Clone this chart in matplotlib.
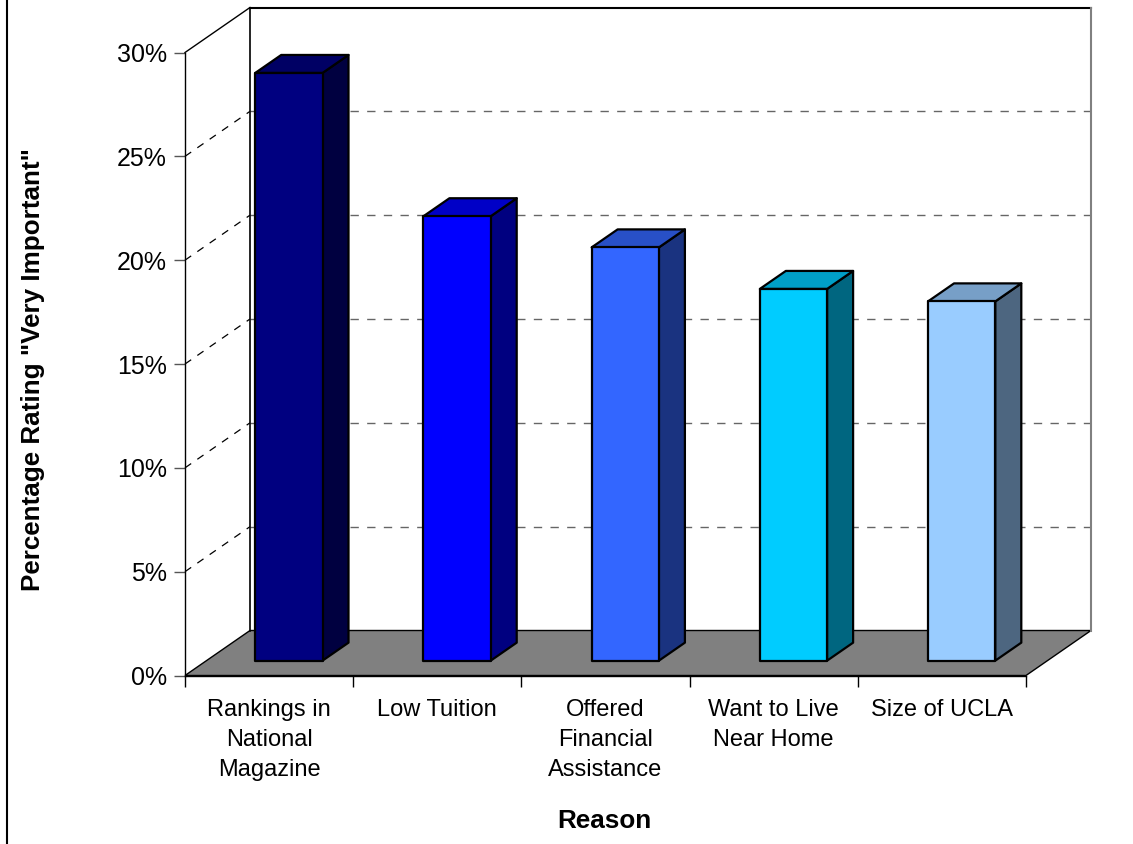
import matplotlib
matplotlib.use("Agg")
import matplotlib.pyplot as plt
from matplotlib.patches import Polygon
from matplotlib.lines import Line2D
from matplotlib.colors import to_rgb

plt.rcParams['font.family'] = ['Liberation Sans', 'DejaVu Sans']

categories = ["Rankings in\nNational\nMagazine", "Low Tuition",
              "Offered\nFinancial\nAssistance", "Want to Live\nNear Home",
              "Size of UCLA"]
values = [28.3, 21.4, 19.9, 17.9, 17.3]
colors = ["#000080", "#0000FF", "#3366FF", "#00CCFF", "#99CCFF"]
yticks = [0, 5, 10, 15, 20, 25, 30]
ytick_labels = ["0%", "5%", "10%", "15%", "20%", "25%", "30%"]
xlabel = "Reason"
ylabel = 'Percentage Rating "Very Important"'

W, H = 1133, 844
fig = plt.figure(figsize=(W / 100, H / 100), dpi=100)
# front plane of the 3D box (pixels)
x0p, x1p = 185, 1026
y0p, y1p = 675.5, 52.5
ax = fig.add_axes([x0p / W, (H - y0p) / H, (x1p - x0p) / W, (y0p - y1p) / H])
n = len(categories)
ymax = 30
ax.set_xlim(0, n)
ax.set_ylim(0, ymax)

# depth offset (full depth) in data units
DX = 65 / (x1p - x0p) * n
DY = 45 / (y0p - y1p) * ymax

for s in ["top", "right"]:
    ax.spines[s].set_visible(False)
ax.spines["left"].set_color("black")
ax.spines["bottom"].set_color("black")
ax.spines["left"].set_linewidth(1.0)
ax.spines["bottom"].set_linewidth(1.0)
ax.spines["left"].set_zorder(20)
ax.spines["bottom"].set_zorder(20)

ax.set_yticks(yticks)
ax.set_yticklabels(ytick_labels, fontsize=18)
ax.tick_params(axis="y", direction="out", length=8, width=1, color="#555555", pad=5)
ax.set_xticks(range(n + 1))
ax.set_xticklabels([""] * (n + 1))
ax.tick_params(axis="x", which="major", direction="out", length=8, width=1, color="black")
ax.set_xticks([i + 0.5 for i in range(n)], minor=True)
ax.set_xticklabels(categories, minor=True, fontsize=17, linespacing=1.47, va="top")
ax.tick_params(axis="x", which="minor", length=0, pad=17)

# floor
floor = Polygon([(0, 0), (n, 0), (n + DX, DY), (DX, DY)], closed=True,
                facecolor="#808080", edgecolor="black", lw=1.0, zorder=1, clip_on=False)
ax.add_patch(floor)

# back wall gridlines and left wall gridlines
for v in yticks[1:-1]:
    ax.add_line(Line2D([DX, n + DX], [v + DY, v + DY], color="#666666", lw=1.0,
                       linestyle=(0, (6, 6)), zorder=2, clip_on=False))
    ax.add_line(Line2D([0, DX], [v, v + DY], color="black", lw=0.9,
                       linestyle=(0, (6, 6)), zorder=2, clip_on=False))

# wall borders
ax.add_line(Line2D([DX, DX], [DY, ymax + DY], color="black", lw=1.2, zorder=3, clip_on=False))
ax.add_line(Line2D([DX, n + DX], [ymax + DY, ymax + DY], color="black", lw=1.5, zorder=3, clip_on=False))
ax.add_line(Line2D([n + DX, n + DX], [DY, ymax + DY], color="#808080", lw=1.5, zorder=3, clip_on=False))
ax.add_line(Line2D([0, DX], [ymax, ymax + DY], color="black", lw=1.0, zorder=3, clip_on=False))

# bars
f0, f1 = 0.33, 0.73
bw = 0.4
off = 0.29


def shade(c, k):
    r, g, b = to_rgb(c)
    return (r * k, g * k, b * k)


for i, (v, c) in enumerate(zip(values, colors)):
    xl = i + off + f0 * DX
    xr = xl + bw
    yb = f0 * DY
    yt = v + f0 * DY
    ddx = (f1 - f0) * DX
    ddy = (f1 - f0) * DY
    front = Polygon([(xl, yb), (xr, yb), (xr, yt), (xl, yt)], closed=True,
                    facecolor=c, edgecolor="black", lw=1.6, joinstyle="round",
                    zorder=5, clip_on=False)
    side = Polygon([(xr, yb), (xr + ddx, yb + ddy), (xr + ddx, yt + ddy), (xr, yt)],
                   closed=True, facecolor=shade(c, 0.5), edgecolor="black", lw=1.6,
                   joinstyle="round", zorder=5, clip_on=False)
    top = Polygon([(xl, yt), (xr, yt), (xr + ddx, yt + ddy), (xl + ddx, yt + ddy)],
                  closed=True, facecolor=shade(c, 0.78), edgecolor="black", lw=1.6,
                  joinstyle="round", zorder=5, clip_on=False)
    for p in (side, top, front):
        ax.add_patch(p)

# axis titles
fig.text(604 / W, 1 - 821 / H, xlabel, fontsize=18.8, fontweight="bold",
         ha="center", va="center")
fig.text(33 / W, 1 - 370 / H, ylabel, fontsize=18.7, fontweight="bold",
         ha="center", va="center", rotation=90)

# left border line of the chart area
fig.add_artist(Line2D([7 / W, 7 / W], [0, 1], color="black", lw=1.5,
                      transform=fig.transFigure))

fig.savefig("out.png", dpi=100)
